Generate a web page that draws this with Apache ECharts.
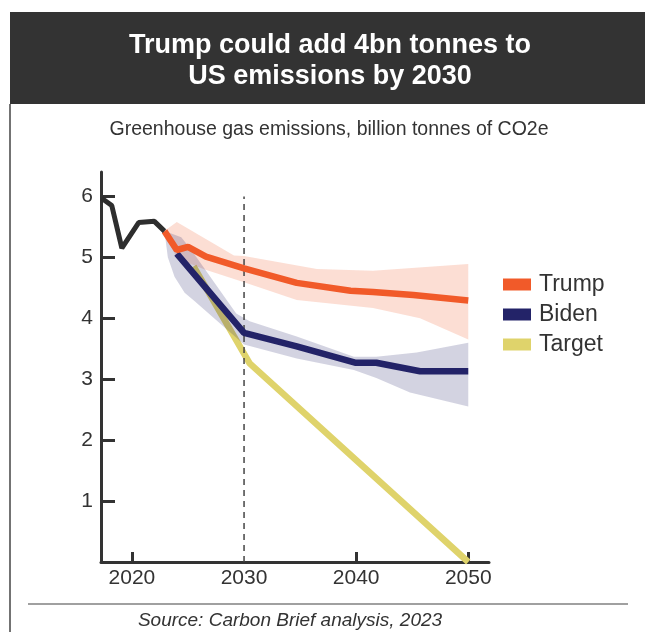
<!DOCTYPE html>
<html>
<head>
<meta charset="utf-8">
<script src="https://cdn.jsdelivr.net/npm/echarts@6/dist/echarts.min.js"></script>
<style>
html,body{margin:0;padding:0;background:#fff;}
#c{width:645px;height:632px;}
</style>
</head>
<body>
<div id="c"></div>
<script>
// ---- data ----
const historyData = [[2017.3,5.97],[2018.2,5.85],[2019.1,5.15],[2020.6,5.57],[2022.0,5.59],[2022.9,5.43]];
const trumpData = [[2022.9,5.43],[2024.0,5.12],[2025.0,5.17],[2026.6,5.01],[2030.0,4.82],[2034.7,4.58],[2039.5,4.45],[2041.5,4.43],[2045.1,4.38],[2050.0,4.29]];
const trumpUpper = [[2022.9,5.43],[2024.0,5.58],[2029.1,5.03],[2030.0,5.02],[2036.5,4.81],[2041.5,4.78],[2050.0,4.89]];
const trumpLower = [[2022.9,5.43],[2024.0,4.98],[2026.5,4.80],[2030.0,4.59],[2034.7,4.30],[2041.5,4.17],[2045.7,4.00],[2050.0,3.65]];
const bidenData = [[2024.0,5.06],[2030.0,3.76],[2034.7,3.54],[2039.9,3.27],[2041.8,3.27],[2045.7,3.13],[2050.0,3.13]];
const bidenUpper = [[2022.9,5.43],[2024.4,5.33],[2025.3,5.12],[2029.3,4.08],[2030.5,3.95],[2034.7,3.70],[2039.8,3.37],[2041.8,3.37],[2045.4,3.44],[2050.0,3.60]];
const bidenLower = [[2022.9,5.43],[2023.2,5.00],[2023.8,4.68],[2024.7,4.42],[2025.6,4.28],[2030.0,3.57],[2034.7,3.34],[2039.8,3.15],[2041.8,3.02],[2044.8,2.78],[2050.0,2.55]];
const targetData = [[2025.5,4.85],[2030.5,3.26],[2050.0,0.0]];
const markerLine = [[2030,0],[2030,6.0]];
const xLabelValues = [2020,2030,2040,2050];
const xTickValues = [2020,2040,2050];
const yTickValues = [1,2,3,4,5,6];
const seriesNames = ['Trump','Biden','Target'];

const FONT = 'Liberation Sans';
const C_TRUMP = '#f15a29', C_BIDEN = '#232368', C_TARGET = '#dfd36b', C_HIST = '#2e2e2e';

function band(upper, lower, fill){
  return {
    type:'custom', silent:true, z:2, clip:false,
    data:[upper[0]],
    renderItem:function(params, api){
      if(params.dataIndex!==0) return null;
      const pts = upper.map(p=>api.coord(p)).concat(lower.slice().reverse().map(p=>api.coord(p)));
      return {type:'polygon', shape:{points:pts}, style:{fill:fill}};
    }
  };
}

const chart = echarts.init(document.getElementById('c'), null, {renderer:'canvas'});
chart.setOption({
  animation:false,
  backgroundColor:'#fff',
  graphic:[
    {type:'rect', shape:{x:10,y:12,width:640,height:92}, style:{fill:'#333333'}, z:-1},
    {type:'line', shape:{x1:10,y1:104,x2:10,y2:640}, style:{stroke:'#444',lineWidth:1.5}},
    {type:'line', shape:{x1:28,y1:604,x2:628,y2:604}, style:{stroke:'#a0a0a0',lineWidth:2}}
  ],
  title:[
    {text:'Trump could add 4bn tonnes to\nUS emissions by 2030', left:330, top:30, textAlign:'center', padding:0,
     textStyle:{color:'#fff', fontFamily:FONT, fontWeight:'bold', fontSize:27, lineHeight:31}},
    {text:'Greenhouse gas emissions, billion tonnes of CO2e', left:329, top:120, textAlign:'center', padding:0,
     textStyle:{color:'#333', fontFamily:FONT, fontWeight:'normal', fontSize:19.5}},
    {text:'Source: Carbon Brief analysis, 2023', left:290, top:611, textAlign:'center', padding:0,
     textStyle:{color:'#333', fontFamily:FONT, fontStyle:'italic', fontWeight:'normal', fontSize:19}}
  ],
  legend:{
    data:seriesNames.map(n=>({name:n, icon:'rect'})),
    orient:'vertical', left:503, top:273, padding:0, itemWidth:28, itemHeight:12, itemGap:7,
    textStyle:{fontFamily:FONT, fontSize:23, lineHeight:21, color:'#333', padding:[0,0,0,3]},
    selectedMode:false
  },
  grid:{left:101, top:172, width:388, height:390},
  xAxis:{
    type:'value', min:2017.24, max:2051.85,
    axisLine:{lineStyle:{color:'#333', width:3}},
    axisTick:{show:true, inside:true, length:10, lineStyle:{color:'#333', width:3}, customValues:xTickValues},
    axisLabel:{customValues:xLabelValues, margin:6, fontFamily:FONT, fontSize:21, color:'#333',
      formatter:function(v){return String(v);}},
    splitLine:{show:false}
  },
  yAxis:{
    type:'value', min:0, max:6.4,
    axisLine:{show:true, lineStyle:{color:'#333', width:3}},
    axisTick:{show:true, inside:true, length:14, lineStyle:{color:'#333', width:3}, customValues:yTickValues},
    axisLabel:{customValues:yTickValues, margin:8, fontFamily:FONT, fontSize:21, color:'#333'},
    splitLine:{show:false}
  },
  series:[
    {name:'Target', type:'line', data:targetData, z:1, symbol:'none', color:C_TARGET,
     lineStyle:{color:C_TARGET, width:6.5}},
    band(trumpUpper, trumpLower, 'rgba(241,90,41,0.2)'),
    band(bidenUpper, bidenLower, 'rgba(35,35,104,0.2)'),
    {name:'dash', type:'line', data:markerLine, z:3, symbol:'none', silent:true,
     lineStyle:{color:'#444', width:1.5, type:[6,5]}},
    {name:'Biden', type:'line', data:bidenData, z:4, symbol:'none', color:C_BIDEN,
     lineStyle:{color:C_BIDEN, width:6.5}},
    {name:'Trump', type:'line', data:trumpData, z:5, symbol:'none', color:C_TRUMP,
     lineStyle:{color:C_TRUMP, width:6.5}},
    {name:'History', type:'line', data:historyData, z:6, symbol:'none',
     lineStyle:{color:C_HIST, width:5}}
  ]
});
</script>
</body>
</html>
